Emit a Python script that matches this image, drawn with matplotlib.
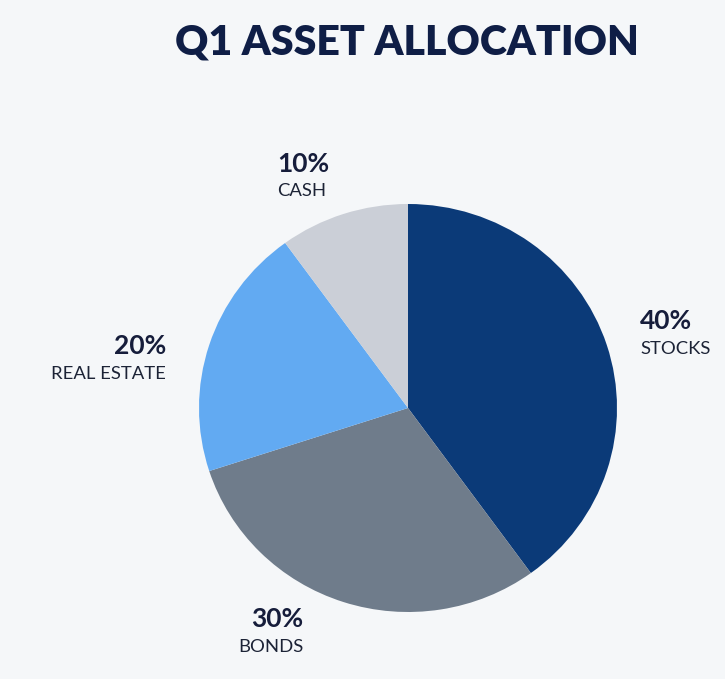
import matplotlib.pyplot as plt

# Data
categories = ["STOCKS", "BONDS", "REAL ESTATE", "CASH"]
shares = [40, 30, 20, 10]
colors = ["#0b3a78", "#6f7c8b", "#62aaf2", "#cbcfd7"]

W, H = 725, 679
fig = plt.figure(figsize=(W / 100, H / 100), dpi=100)
fig.patch.set_facecolor("#f5f7f9")

# pie box in pixels: left 199, right 617, top 204, bottom 612
left, right, top, bottom = 199, 617, 204, 612
ax = fig.add_axes([left / W, 1 - bottom / H, (right - left) / W, (bottom - top) / H])
ax.pie(shares, colors=colors, startangle=90, counterclock=False,
       wedgeprops=dict(linewidth=0))
ax.set_aspect("auto")
ax.set_xlim(-1, 1)
ax.set_ylim(-1, 1)
ax.axis("off")


def px(x, y):
    return x / W, 1 - y / H


fig.text(*px(407, 55), "Q1 ASSET ALLOCATION", ha="center", va="baseline",
         fontsize=29.5, fontweight="heavy", family="Lato", color="#0f1e46")

# label anchors (x, baseline of pct, baseline of name, alignment)
label_pos = {
    "STOCKS": (640, 329, 354, "left"),
    "BONDS": (303, 627, 652, "right"),
    "REAL ESTATE": (166, 354, 379, "right"),
    "CASH": (277, 172, 196, "left"),
}

for cat, val in zip(categories, shares):
    x, yp, yn, ha = label_pos[cat]
    fig.text(*px(x, yp), f"{val}%", ha=ha, va="baseline", fontsize=19,
             fontweight="bold", family="Lato", color="#161d3b")
    fig.text(*px(x, yn), cat, ha=ha, va="baseline", fontsize=13.3,
             family="Lato", color="#1c2336")

fig.savefig("out.png", dpi=100, facecolor=fig.get_facecolor())
